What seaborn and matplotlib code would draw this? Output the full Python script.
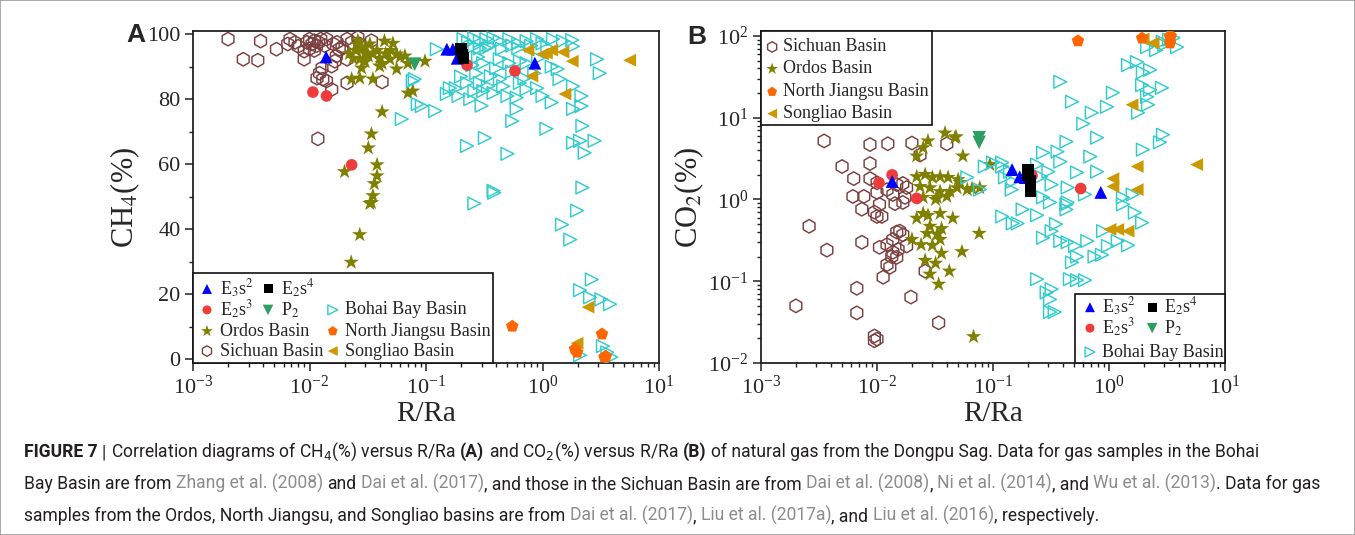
import numpy as np
import pandas as pd
import matplotlib
matplotlib.use("Agg")
import matplotlib.pyplot as plt
import seaborn as sns
from matplotlib.patches import Rectangle
from matplotlib.ticker import AutoMinorLocator

# ---------- DATA (R/Ra, gas %) ------------------------------------------------------
# Panel A : CH4 (%) vs R/Ra
sichuan_a = [(0.002, 98.5), (0.0038, 97.9), (0.0027, 92.3), (0.0036, 92.0), (0.0052, 95.4),
             (0.0065, 97.0), (0.0068, 98.5), (0.0075, 97.5), (0.008, 96.3), (0.009, 94.8),
             (0.009, 92.3), (0.0095, 97.5), (0.010, 98.5), (0.0105, 97.0), (0.011, 98.0),
             (0.0115, 96.5), (0.012, 97.5), (0.010, 95.5), (0.011, 95.0), (0.0125, 98.5),
             (0.014, 98.5), (0.0172, 97.5), (0.021, 98.5), (0.026, 99.0), (0.034, 98.0),
             (0.027, 97.0), (0.018, 95.4), (0.017, 93.3), (0.0165, 91.7), (0.021, 92.3),
             (0.0128, 89.6), (0.0122, 88.0), (0.0116, 86.5), (0.013, 86.2), (0.014, 85.6),
             (0.0155, 83.0), (0.021, 85.0), (0.042, 85.3), (0.0118, 67.8), (0.0155, 90.2),
             (0.0135, 96.5), (0.016, 97.0), (0.019, 96.0), (0.023, 97.5)]
ordos_a = [(0.0256, 96.9), (0.028, 95.7), (0.030, 94.2), (0.0236, 92.6), (0.027, 92.3),
           (0.032, 93.3), (0.035, 93.9), (0.040, 92.6), (0.044, 97.9), (0.052, 97.2),
           (0.049, 92.3), (0.056, 93.9), (0.066, 93.3), (0.098, 91.7), (0.028, 89.6),
           (0.040, 90.2), (0.056, 89.3), (0.023, 86.2), (0.027, 86.5), (0.035, 86.2),
           (0.070, 81.9), (0.077, 82.5), (0.042, 76.1), (0.034, 69.3), (0.032, 65.0),
           (0.038, 59.8), (0.020, 57.7), (0.038, 56.4), (0.036, 54.0), (0.035, 50.3),
           (0.034, 48.2), (0.033, 47.9), (0.027, 38.3), (0.0228, 29.8), (0.025, 95.0),
           (0.030, 96.0), (0.033, 97.0), (0.045, 94.0), (0.060, 93.0), (0.038, 95.0),
           (0.050, 95.0), (0.042, 91.0), (0.070, 91.0), (0.022, 94.0), (0.030, 91.5),
           (0.026, 98.0)]
bohai_a = [(0.08, 86.2), (0.085, 78.5), (0.092, 77.9), (0.062, 73.9), (0.124, 95.4),
           (0.26, 98.8), (0.29, 97.9), (0.33, 98.5), (0.38, 98.8), (0.43, 97.9), (0.52, 98.5),
           (0.62, 97.2), (0.73, 97.9), (0.9, 98.5), (1.0, 97.2), (1.23, 98.5), (1.5, 97.9),
           (1.8, 98.2), (0.26, 96.3), (0.33, 95.7), (0.29, 95.7), (0.62, 95.7), (1.83, 96.3),
           (0.31, 91.1), (0.43, 92.3), (0.52, 91.1), (0.64, 91.7), (0.73, 91.1), (0.92, 92.6),
           (1.35, 89.3), (1.83, 84.0), (2.16, 81.0), (2.94, 92.3), (3.1, 88.0), (0.27, 88.0),
           (0.36, 87.1), (0.43, 86.2), (0.29, 85.0), (0.225, 85.0), (0.16, 83.4), (0.18, 83.4),
           (0.151, 81.6), (0.19, 81.0), (0.24, 80.0), (0.31, 82.5), (0.38, 81.9), (0.46, 84.0),
           (0.5, 81.0), (0.64, 85.0), (0.73, 83.1), (0.9, 83.4), (1.0, 81.0), (1.4, 86.2),
           (1.83, 77.0), (2.16, 77.9), (0.12, 76.4), (0.077, 85.6), (0.55, 73.3), (0.6, 77.0),
           (1.08, 70.9), (2.2, 71.8), (1.83, 66.6), (2.1, 67.2), (2.8, 67.2), (2.3, 63.5),
           (0.225, 65.6), (0.32, 68.1), (0.5, 63.2), (0.38, 51.8), (0.385, 51.2), (2.2, 52.8),
           (0.26, 47.9), (1.98, 45.7), (1.47, 41.4), (1.73, 36.8), (2.65, 24.5), (2.1, 21.2),
           (2.56, 19.0), (3.2, 18.4), (3.8, 16.9), (3.3, 4.0), (3.6, 2.1), (3.9, 0.6),
           (2.1, 1.2), (0.21, 98.5), (0.23, 97.5), (0.35, 96.5), (0.45, 95.5), (0.55, 96.5),
           (0.8, 96.5), (1.1, 96.0), (0.25, 90.5), (0.28, 93.0), (0.4, 89.5), (0.55, 88.5),
           (0.7, 86.5), (0.85, 88.0), (1.2, 90.0), (0.2, 87.0), (0.34, 84.0), (0.26, 82.5),
           (0.6, 80.5), (1.2, 79.0), (0.3, 78.0)]
songliao_a = [(0.75, 95.1), (1.0, 93.9), (1.08, 94.2), (1.2, 95.1), (1.5, 94.5), (1.8, 91.7),
              (5.6, 92.0), (0.81, 87.1), (1.56, 81.6), (2.46, 16.0), (1.98, 4.9)]
jiangsu_a = [(0.55, 10.1), (3.24, 7.7), (1.9, 3.1), (1.98, 2.1), (3.4, 0.6), (3.5, 0.8)]
e2s3_a = [(0.0107, 82.2), (0.014, 81.0), (0.023, 59.8), (0.225, 90.5), (0.58, 88.7)]
e3s2_a = [(0.0139, 93.0), (0.151, 95.4), (0.170, 95.4), (0.185, 92.6), (0.86, 91.1)]
e2s4_a = [(0.200, 95.5), (0.205, 93.8), (0.21, 92.6)]
p2_a = [(0.080, 90.8)]

# Panel B : CO2 (%) vs R/Ra
sichuan_b = [(0.0035, 5.2), (0.0087, 4.7), (0.0124, 4.8), (0.020, 4.9), (0.040, 4.8),
             (0.005, 2.53), (0.0087, 2.75), (0.0063, 1.8), (0.0087, 1.8), (0.010, 1.6),
             (0.0062, 1.09), (0.0077, 1.09), (0.010, 1.22), (0.0122, 1.32), (0.0148, 1.52),
             (0.0167, 1.57), (0.018, 1.4), (0.0137, 1.15), (0.0174, 1.06), (0.0235, 3.5),
             (0.0026, 0.47), (0.0037, 0.24), (0.0074, 0.30), (0.0105, 0.87), (0.0095, 0.70),
             (0.010, 0.62), (0.011, 0.62), (0.0074, 0.76), (0.0143, 0.89), (0.0167, 0.92),
             (0.0105, 0.26), (0.0122, 0.28), (0.0137, 0.325), (0.0148, 0.40), (0.0157, 0.41),
             (0.0167, 0.37), (0.018, 0.27), (0.0137, 0.226), (0.0148, 0.196), (0.0122, 0.16),
             (0.0129, 0.148), (0.0152, 0.245), (0.0134, 0.20), (0.0113, 0.112), (0.0067, 0.082),
             (0.002, 0.05), (0.0067, 0.041), (0.0196, 0.064), (0.026, 0.133), (0.034, 0.031),
             (0.0095, 0.0214), (0.010, 0.0196), (0.0095, 0.0187)]
ordos_b = [(0.0386, 6.5), (0.047, 5.7), (0.048, 5.85), (0.0275, 5.2), (0.025, 4.3), (0.022, 3.4),
           (0.055, 3.4), (0.094, 2.67), (0.022, 1.9), (0.026, 2.02), (0.030, 1.86), (0.035, 1.9),
           (0.041, 1.86), (0.050, 1.75), (0.066, 1.36), (0.077, 1.39), (0.0235, 1.44),
           (0.0286, 1.39), (0.035, 1.25), (0.0425, 1.25), (0.049, 1.39), (0.052, 1.61),
           (0.060, 1.32), (0.033, 1.06), (0.040, 1.09), (0.025, 1.06), (0.032, 1.0),
           (0.025, 0.675), (0.0275, 0.64), (0.035, 0.675), (0.045, 0.59), (0.022, 0.59),
           (0.0286, 0.47), (0.036, 0.44), (0.027, 0.385), (0.033, 0.375), (0.035, 0.325),
           (0.020, 0.325), (0.024, 0.28), (0.030, 0.275), (0.036, 0.22), (0.054, 0.23),
           (0.076, 0.385), (0.026, 0.18), (0.032, 0.166), (0.042, 0.133), (0.0286, 0.122),
           (0.034, 0.092), (0.068, 0.021)]
bohai_b = [(0.06, 1.86), (0.085, 2.53), (0.1, 2.83), (0.12, 2.83), (0.127, 1.86), (0.077, 1.32),
           (0.14, 2.19), (0.12, 2.53), (0.148, 1.66), (0.145, 1.32), (0.24, 2.67), (0.27, 3.74),
           (0.36, 3.85), (0.43, 5.1), (0.6, 8.45), (0.71, 11.5), (0.96, 13.6), (1.08, 20.2),
           (1.46, 44), (1.74, 48), (1.96, 36), (2.26, 38.5), (1.93, 25), (2.26, 21.9),
           (2.86, 23.2), (2.13, 18), (2.17, 14.4), (1.78, 11.5), (2.92, 6.2), (2.75, 5.0),
           (1.96, 4.07), (0.79, 5.7), (0.48, 15.7), (0.38, 27.5), (0.69, 3.35), (0.79, 2.19),
           (0.53, 2.14), (0.38, 2.9), (0.3, 2.19), (0.32, 1.52), (0.44, 1.4), (0.62, 1.15),
           (0.27, 1.06), (1.32, 1.06), (1.6, 1.15), (0.26, 1.9), (3.86, 73), (2.13, 73),
           (2.55, 67), (3.0, 78), (3.3, 90), (3.6, 95), (2.9, 85), (0.12, 0.62), (0.148, 0.51),
           (0.163, 0.51), (0.18, 0.755), (0.24, 0.64), (0.27, 0.34), (0.32, 0.41), (0.35, 0.5),
           (0.31, 0.92), (0.43, 0.755), (0.44, 0.92), (0.38, 0.31), (0.44, 0.3), (0.51, 0.27),
           (0.65, 0.31), (0.48, 0.17), (0.53, 0.2), (0.75, 0.2), (0.87, 0.21), (0.98, 0.27),
           (0.89, 0.41), (1.19, 0.31), (1.46, 0.275), (1.32, 0.87), (1.67, 0.69), (1.93, 0.52),
           (0.24, 0.106), (0.29, 0.073), (0.32, 0.08), (0.31, 0.06), (0.31, 0.042),
           (0.34, 0.042), (0.46, 0.106), (0.53, 0.103), (0.62, 0.103), (0.43, 0.87)]
songliao_b = [(1.97, 92), (2.4, 82), (1.58, 14.4), (1.75, 2.53), (5.7, 2.67), (1.08, 1.8),
              (1.08, 1.44), (1.75, 1.32), (1.02, 0.43), (1.19, 0.43), (1.46, 0.41)]
jiangsu_b = [(0.54, 87), (1.93, 94), (3.36, 97), (3.36, 82), (3.4, 100)]
e2s3_b = [(0.0135, 2.0), (0.0104, 1.6), (0.022, 1.03), (0.217, 1.96), (0.57, 1.36)]
e3s2_b = [(0.0135, 1.66), (0.146, 2.32), (0.17, 1.9), (0.19, 1.85), (0.85, 1.22)]
e2s4_b = [(0.2, 2.3), (0.2, 2.0), (0.21, 1.7), (0.21, 1.45), (0.21, 1.25)]
p2_b = [(0.076, 5.7), (0.076, 5.0)]

# ---------- STYLE ----------------------------------------------------------------
sns.set_style("ticks")
plt.rcParams["font.family"] = ["Liberation Serif", "DejaVu Serif"]
plt.rcParams["mathtext.fontset"] = "stix"

# series styles: marker, colour, size, open?
STY = {
    "sichuan": ("h", "#7B3F3F", 95, True),
    "ordos": ("*", "#808000", 135, False),
    "bohai": (">", "#33CCCC", 85, True),
    "songliao": ("<", "#CC9900", 85, False),
    "jiangsu": ("p", "#FF6600", 90, False),
    "e2s3": ("o", "#EE3B3B", 70, False),
    "e3s2": ("^", "#0000FF", 85, False),
    "e2s4": ("s", "#000000", 70, False),
    "p2": ("v", "#2E9E60", 95, False),
}

W, H = 1355, 535
fig = plt.figure(figsize=(W / 100, H / 100), dpi=100)
axA = fig.add_axes([193 / W, 1 - 363 / H, 466 / W, 332 / H])
axB = fig.add_axes([761 / W, 1 - 363 / H, 464 / W, 332 / H])


def plot_series(ax, pts, key):
    mk, col, s, hollow = STY[key]
    df = pd.DataFrame(pts, columns=["R", "V"])
    if hollow:
        kw = dict(facecolor="none", edgecolor=col, linewidth=1.05)
    else:
        kw = dict(edgecolor="none", linewidth=0)
    sns.scatterplot(data=df, x="R", y="V", ax=ax, marker=mk, s=s, color=col,
                    legend=False, zorder=3, **kw)


for ax in (axA, axB):
    ax.set_xscale("log")
axB.set_yscale("log")

panel_a = [("sichuan", sichuan_a), ("ordos", ordos_a), ("bohai", bohai_a),
           ("songliao", songliao_a), ("jiangsu", jiangsu_a), ("e2s3", e2s3_a),
           ("e3s2", e3s2_a), ("e2s4", e2s4_a), ("p2", p2_a)]
panel_b = [("sichuan", sichuan_b), ("ordos", ordos_b), ("bohai", bohai_b),
           ("songliao", songliao_b), ("jiangsu", jiangsu_b), ("e2s3", e2s3_b),
           ("e3s2", e3s2_b), ("e2s4", e2s4_b), ("p2", p2_b)]
for key, pts in panel_a:
    plot_series(axA, pts, key)
for key, pts in panel_b:
    plot_series(axB, pts, key)

axA.set_xlim(1e-3, 1e1)
axA.set_ylim(-1.2, 101)
axA.set_yticks([0, 20, 40, 60, 80, 100])
axA.yaxis.set_minor_locator(AutoMinorLocator(2))
axB.set_xlim(1e-3, 1e1)
axB.set_ylim(0.01, 115)

for ax in (axA, axB):
    ax.tick_params(which="major", direction="out", length=6, width=1.1, labelsize=16,
                   color="#222222", pad=3)
    ax.tick_params(which="minor", direction="out", length=3, width=1, color="#222222")
    for sp in ax.spines.values():
        sp.set_linewidth(1.3)
        sp.set_color("#222222")
    ax.set_xlabel("R/Ra", fontsize=21, labelpad=2)

axA.set_ylabel("CH$_4$(%)", fontsize=22, labelpad=4)
axB.set_ylabel("CO$_2$(%)", fontsize=22, labelpad=2)

fig.text(136 / W, 1 - 35 / H, "A", family="Liberation Sans", weight="bold", fontsize=19,
         ha="center", va="center")
fig.text(697 / W, 1 - 37 / H, "B", family="Liberation Sans", weight="bold", fontsize=19,
         ha="center", va="center")


# ---------- hand-built legends (irregular layout as in the original) -------------
def leg_box(ax, x0, y0, w, h):
    ax.add_patch(Rectangle((x0, y0), w, h, transform=ax.transAxes, fc="white",
                           ec="#111111", lw=1.2, zorder=5, clip_on=False))


def leg_item(ax, x, y, key, label, dx=0.027):
    mk, col, s, hollow = STY[key]
    fc = "none" if hollow else col
    ec = col if hollow else "none"
    ax.scatter([x], [y], transform=ax.transAxes, marker=mk, s=s * 0.6, facecolor=fc,
               edgecolor=ec, linewidth=1, zorder=6, clip_on=False)
    ax.text(x + dx, y, label, transform=ax.transAxes, fontsize=13, va="center",
            ha="left", zorder=6)


leg_box(axA, 0, 0, 0.644, 0.271)
rows = [0.223, 0.160, 0.096, 0.036]
leg_item(axA, 0.030, rows[0], "e3s2", "E$_3$s$^2$")
leg_item(axA, 0.161, rows[0], "e2s4", "E$_2$s$^4$")
leg_item(axA, 0.030, rows[1], "e2s3", "E$_2$s$^3$")
leg_item(axA, 0.161, rows[1], "p2", "P$_2$")
leg_item(axA, 0.300, rows[1], "bohai", "Bohai Bay Basin")
leg_item(axA, 0.030, rows[2], "ordos", "Ordos Basin")
leg_item(axA, 0.300, rows[2], "jiangsu", "North Jiangsu Basin")
leg_item(axA, 0.030, rows[3], "sichuan", "Sichuan Basin")
leg_item(axA, 0.300, rows[3], "songliao", "Songliao Basin")

leg_box(axB, 0, 0.718, 0.369, 0.282)
leg_item(axB, 0.024, 0.952, "sichuan", "Sichuan Basin", dx=0.024)
leg_item(axB, 0.024, 0.886, "ordos", "Ordos Basin", dx=0.024)
leg_item(axB, 0.024, 0.817, "jiangsu", "North Jiangsu Basin", dx=0.024)
leg_item(axB, 0.024, 0.751, "songliao", "Songliao Basin", dx=0.024)

leg_box(axB, 0.677, 0, 0.323, 0.207)
leg_item(axB, 0.709, 0.168, "e3s2", "E$_3$s$^2$", dx=0.026)
leg_item(axB, 0.843, 0.168, "e2s4", "E$_2$s$^4$", dx=0.026)
leg_item(axB, 0.709, 0.105, "e2s3", "E$_2$s$^3$", dx=0.026)
leg_item(axB, 0.843, 0.105, "p2", "P$_2$", dx=0.026)
leg_item(axB, 0.709, 0.033, "bohai", "Bohai Bay Basin", dx=0.026)

# ---------- caption -----------------------------------------------------------------
CAP = ["Roboto", "Liberation Sans", "DejaVu Sans"]
DARK, REF = "#231F20", "#8C8C8C"
line1 = [("FIGURE 7", "b", False), ("|", "r", True),
         ("Correlation diagrams of CH$_4$(%) versus R/Ra", "r", True), ("(A)", "b", True),
         ("and CO$_2$(%) versus R/Ra", "r", True), ("(B)", "b", True),
         ("of natural gas from the Dongpu Sag. Data for gas samples in the Bohai", "r", True)]
line2 = [("Bay Basin are from", "r", False), ("Zhang et al. (2008)", "g", True),
         ("and", "r", True), ("Dai et al. (2017)", "g", True),
         (", and those in the Sichuan Basin are from", "r", False),
         ("Dai et al. (2008)", "g", True), (",", "r", False), ("Ni et al. (2014)", "g", True),
         (", and", "r", False), ("Wu et al. (2013)", "g", True),
         (". Data for gas", "r", False)]
line3 = [("samples from the Ordos, North Jiangsu, and Songliao basins are from", "r", False),
         ("Dai et al. (2017)", "g", True), (",", "r", False),
         ("Liu et al. (2017a)", "g", True), (", and", "r", False),
         ("Liu et al. (2016)", "g", True), (", respectively.", "r", False)]

rend = fig.canvas.get_renderer()


def text_w(s, size, weight="normal"):
    t = fig.text(0, 0, s, fontsize=size, family=CAP, weight=weight)
    w = t.get_window_extent(rend).width
    t.remove()
    return w


def draw_line(y_px, parts, size, x_px=24):
    sp = text_w("a a", size) - text_w("aa", size)
    arts = []
    x = x_px
    for txt, st, gap in parts:
        if gap:
            x += sp
        t = fig.text(x / W, 1 - y_px / H, txt, fontsize=size, family=CAP,
                     weight="bold" if st == "b" else "normal",
                     color=REF if st == "g" else DARK, va="baseline",
                     math_fontfamily="dejavusans")
        arts.append(t)
        x += t.get_window_extent(rend).width
    return arts, x


# fit the caption size so lines 1 and 2 span roughly the same width as the original
arts1, x1 = draw_line(457, line1, 12)
arts2, x2 = draw_line(489, line2, 12)
scale = 0.5 * ((1279 - 24) / (x1 - 24) + (1293 - 24) / (x2 - 24))
for a in arts1 + arts2:
    a.remove()
size = 12 * scale
draw_line(457, line1, size)
draw_line(489, line2, size)
draw_line(521, line3, size)

fig.patches.append(Rectangle((0, 0), 1, 1, transform=fig.transFigure, fill=False,
                             ec="#9a9a9a", lw=1.2))

fig.savefig("out.png", dpi=100)
